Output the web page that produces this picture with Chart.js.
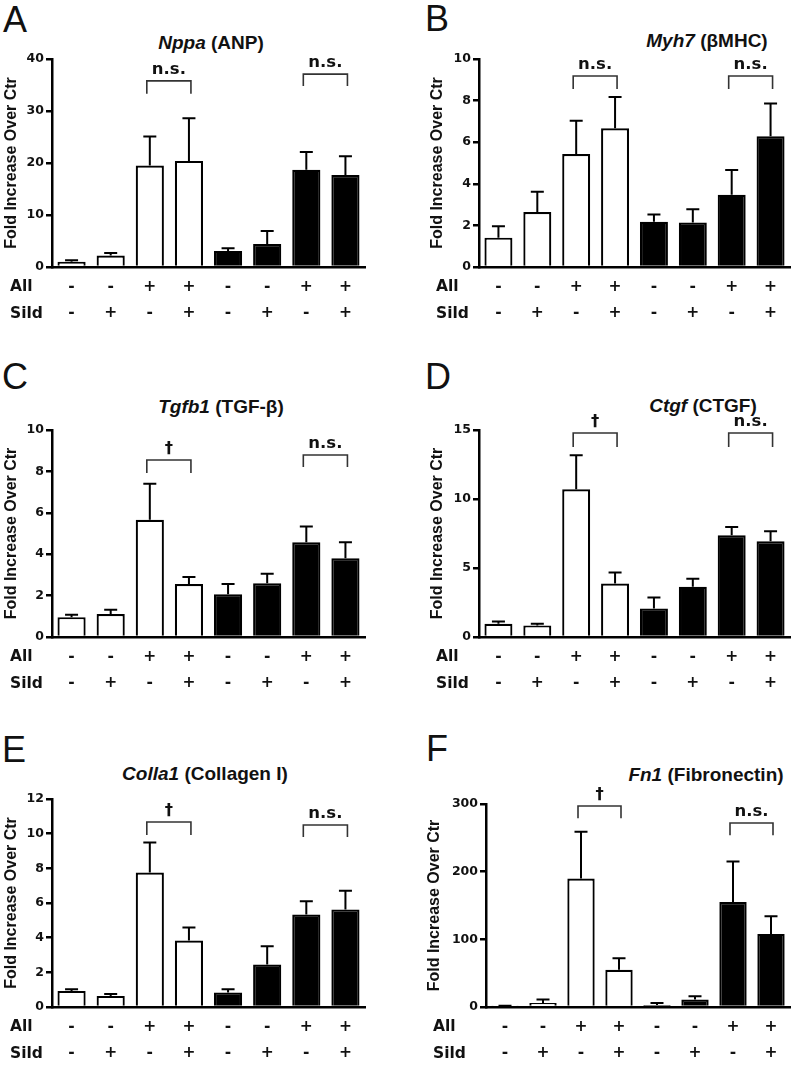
<!DOCTYPE html>
<html>
<head>
<meta charset="utf-8">
<script src="https://cdn.jsdelivr.net/npm/chart.js@4.4.1/dist/chart.umd.min.js"></script>
<style>
body { margin: 0; background: #fff; }
#fig { position: relative; width: 796px; height: 1072px; font-family: 'Liberation Sans', Arial, sans-serif; color: #111; overflow: hidden; }
canvas { position: absolute; }
.letter { position: absolute; font-size: 36px; line-height: 36px; }
.title { position: absolute; width: 300px; text-align: center; font-size: 19px; font-weight: bold; line-height: 19px; white-space: nowrap; }
</style>
</head>
<body>
<div id="fig">
  <div class="letter" style="left:3px;top:2px">A</div>
  <div class="letter" style="left:425px;top:1px">B</div>
  <div class="letter" style="left:2px;top:359px">C</div>
  <div class="letter" style="left:425px;top:359px">D</div>
  <div class="letter" style="left:2px;top:732px">E</div>
  <div class="letter" style="left:426px;top:731px">F</div>

  <div class="title" style="left:61px;top:33px"><i>Nppa</i> (ANP)</div>
  <div class="title" style="left:557px;top:31px"><i>Myh7</i> (βMHC)</div>
  <div class="title" style="left:71px;top:397px"><i>Tgfb1</i> (TGF-β)</div>
  <div class="title" style="left:553px;top:396px"><i>Ctgf</i> (CTGF)</div>
  <div class="title" style="left:55px;top:764px"><i>Colla1</i> (Collagen I)</div>
  <div class="title" style="left:556px;top:765px"><i>Fn1</i> (Fibronectin)</div>

  <canvas id="cA" width="380" height="340" style="left:0;top:0"></canvas>
  <canvas id="cB" width="370" height="340" style="left:426px;top:0"></canvas>
  <canvas id="cC" width="380" height="360" style="left:0;top:340px"></canvas>
  <canvas id="cD" width="370" height="360" style="left:426px;top:340px"></canvas>
  <canvas id="cE" width="380" height="372" style="left:0;top:700px"></canvas>
  <canvas id="cF" width="373" height="372" style="left:423px;top:700px"></canvas>
</div>

<script>
// treatment rows under the bars
const allRow  = ['-', '-', '+', '+', '-', '-', '+', '+'];
const sildRow = ['-', '+', '-', '+', '-', '+', '-', '+'];
const barFill = ['#fff', '#fff', '#fff', '#fff', '#000', '#000', '#000', '#000'];

// means and SEM
const nppaMean  = [1.0, 2.2, 19.5, 20.4, 3.1, 4.4, 18.7, 17.7];
const nppaSem   = [0.3, 0.5, 5.6, 8.2, 0.5, 2.5, 3.4, 3.6];
const myh7Mean  = [1.41, 2.64, 5.43, 6.67, 2.17, 2.14, 3.47, 6.29];
const myh7Sem   = [0.55, 0.98, 1.6, 1.5, 0.35, 0.64, 1.19, 1.57];
const tgfb1Mean = [0.96, 1.11, 5.66, 2.56, 2.07, 2.6, 4.58, 3.81];
const tgfb1Sem  = [0.12, 0.21, 1.74, 0.34, 0.49, 0.45, 0.76, 0.77];
const ctgfMean  = [0.96, 0.84, 10.7, 3.88, 2.07, 3.64, 7.38, 6.94];
const ctgfSem   = [0.17, 0.12, 2.47, 0.8, 0.8, 0.58, 0.6, 0.73];
const colMean   = [0.93, 0.64, 7.76, 3.84, 0.83, 2.45, 5.33, 5.63];
const colSem    = [0.09, 0.11, 1.73, 0.75, 0.19, 1.06, 0.77, 1.07];
const fn1Mean   = [1.2, 6, 190, 55, 3, 11, 155, 108];
const fn1Sem    = [0.5, 5, 69, 17, 3, 5, 60, 26];

// brackets: [from bar, to bar, label, top value, leg value]
const nppaBrackets  = [[2, 3, 'n.s.', 35.8, 33.3], [6, 7, 'n.s.', 37.1, 34.8]];
const myh7Brackets  = [[2, 3, 'n.s.', 9.18, 8.56], [6, 7, 'n.s.', 9.18, 8.56]];
const tgfb1Brackets = [[2, 3, '†', 8.55, 7.92], [6, 7, 'n.s.', 8.79, 8.21]];
const ctgfBrackets  = [[2, 3, '†', 14.78, 13.77], [6, 7, 'n.s.', 14.78, 13.77]];
const colBrackets   = [[2, 3, '†', 10.67, 9.92], [6, 7, 'n.s.', 10.5, 9.81]];
const fn1Brackets   = [[2, 3, '†', 297, 279], [6, 7, 'n.s.', 272, 254]];

const wideFont = "'DejaVu Sans', 'Liberation Sans', sans-serif";
Chart.defaults.font.family = "'Liberation Sans', Arial, sans-serif";
Chart.defaults.color = '#111';

const extrasPlugin = {
    id: 'extras',
    afterDatasetsDraw(chart, args, opts) {
        const ctx = chart.ctx;
        const xs = chart.scales.x;
        const ys = chart.scales.y;
        const data = chart.data.datasets[0].data;

        // error bars (upper only)
        ctx.save();
        ctx.strokeStyle = '#000';
        ctx.lineWidth = 2;
        for (let i = 0; i < data.length; i++) {
            const px = xs.getPixelForValue(i);
            const base = ys.getPixelForValue(data[i]);
            const top = ys.getPixelForValue(data[i] + opts.sem[i]);
            ctx.beginPath();
            ctx.moveTo(px, base);
            ctx.lineTo(px, top);
            ctx.moveTo(px - 6.5, top);
            ctx.lineTo(px + 6.5, top);
            ctx.stroke();
        }

        // significance brackets
        ctx.strokeStyle = '#333';
        ctx.lineWidth = 1.6;
        ctx.fillStyle = '#111';
        ctx.font = 'bold 16.5px ' + wideFont;
        ctx.textAlign = 'center';
        ctx.textBaseline = 'middle';
        opts.brackets.forEach(b => {
            const x1 = xs.getPixelForValue(b[0]) - 3;
            const x2 = xs.getPixelForValue(b[1]) + 2;
            const yt = ys.getPixelForValue(b[3]);
            const yl = ys.getPixelForValue(b[4]);
            ctx.beginPath();
            ctx.moveTo(x1, yl);
            ctx.lineTo(x1, yt);
            ctx.lineTo(x2, yt);
            ctx.lineTo(x2, yl);
            ctx.stroke();
            ctx.fillText(b[2], (x1 + x2) / 2, yt - 11);
        });
        ctx.restore();
    },
    afterDraw(chart) {
        const ctx = chart.ctx;
        const xs = chart.scales.x;
        ctx.save();
        ctx.fillStyle = '#111';
        ctx.font = 'bold 15.5px ' + wideFont;
        ctx.textAlign = 'left';
        ctx.textBaseline = 'middle';
        ctx.fillText('All', 10, xs.top + 6 + 13.5);
        ctx.fillText('Sild', 10, xs.top + 6 + 13.5 + 27);
        ctx.restore();
    }
};

const makePanel = (id, mean, sem, brackets, yMax, yStep, yWidth, padTop, padRight, xHeight) => {
    const ctx = document.getElementById(id).getContext('2d');
    return new Chart(ctx, {
        type: 'bar',
        data: {
            labels: allRow.map((a, i) => [a, sildRow[i]]),
            datasets: [{
                data: mean,
                backgroundColor: barFill,
                borderColor: '#000',
                borderWidth: 2.2,
                barPercentage: 0.72,
                categoryPercentage: 1
            }]
        },
        options: {
            responsive: false,
            animation: false,
            layout: { padding: { top: padTop, right: padRight, left: 0, bottom: 0 } },
            plugins: {
                legend: { display: false },
                tooltip: { enabled: false },
                extras: { sem: sem, brackets: brackets }
            },
            scales: {
                x: {
                    grid: { display: false, drawTicks: false },
                    border: { display: true, color: '#000', width: 2.5 },
                    ticks: {
                        color: '#111',
                        font: { family: wideFont, size: 15.5, weight: 'bold', lineHeight: 1.74 },
                        padding: 6,
                        maxRotation: 0,
                        autoSkip: false
                    },
                    afterFit: s => { s.height = xHeight; }
                },
                y: {
                    min: 0,
                    max: yMax,
                    ticks: { stepSize: yStep, color: '#111', font: { family: wideFont, size: 12.5, weight: 'bold' }, padding: 2 },
                    grid: { drawOnChartArea: false, drawTicks: true, tickLength: 6, color: '#000', lineWidth: 2.5 },
                    border: { display: true, color: '#000', width: 2.5 },
                    title: {
                        display: true,
                        text: 'Fold Increase Over Ctr',
                        color: '#111',
                        font: { size: 16, weight: 'bold' },
                        padding: { top: 2.4, bottom: 0 }
                    },
                    afterFit: s => { s.width = yWidth; }
                }
            }
        },
        plugins: [extrasPlugin]
    });
};

makePanel('cA', nppaMean, nppaSem, nppaBrackets, 40, 10, 52, 59, 15, 73);
makePanel('cB', myh7Mean, myh7Sem, myh7Brackets, 10, 2, 53, 59, 6, 73);
makePanel('cC', tgfb1Mean, tgfb1Sem, tgfb1Brackets, 10, 2, 52, 90, 15, 63);
makePanel('cD', ctgfMean, ctgfSem, ctgfBrackets, 15, 5, 53, 90, 6, 63);
makePanel('cE', colMean, colSem, colBrackets, 12, 2, 52, 99, 15, 65);
makePanel('cF', fn1Mean, fn1Sem, fn1Brackets, 300, 100, 63, 104, 6, 65);
</script>
</body>
</html>
